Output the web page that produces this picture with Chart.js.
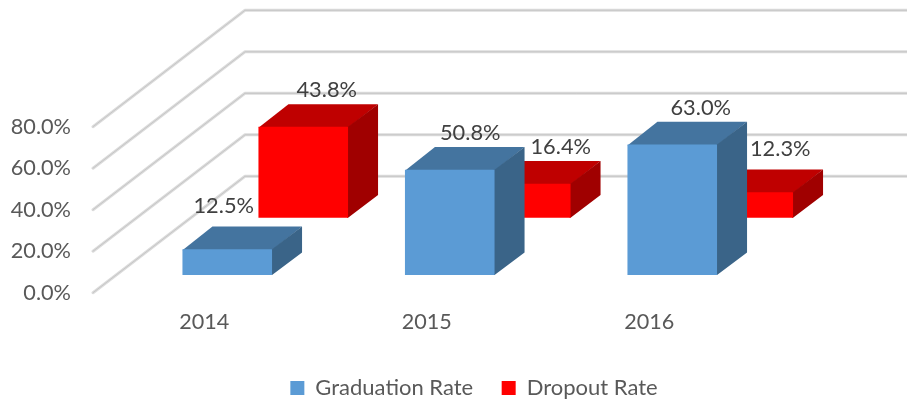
<!DOCTYPE html>
<html>
<head>
<meta charset="utf-8">
<style>html,body{margin:0;padding:0;background:#fff}#wrap{width:907px;height:400px;position:relative}</style>
<script src="https://cdn.jsdelivr.net/npm/chart.js@4"></script>
</head>
<body>
<div id="wrap"><canvas id="c" width="907" height="400"></canvas></div>
<script>
const categories = ['2014', '2015', '2016'];
const graduationRate = [12.5, 50.8, 63.0];
const dropoutRate = [43.8, 16.4, 12.3];
const yTicks = [0, 20, 40, 60, 80];

// Projection styling (oblique 3D look)
const wallDepth = { x: 152, y: -116.4 };
const barDepth = { x: 30, y: -22.6 };
const rows = [
  { dx: 23, dy: -17.6, top: '#44749f', side: '#3a6488' },
  { dx: 99, dy: -75, top: '#bf0000', side: '#a00000' }
];
// Data labels sit by hand in the reference: offset from the bar's front-top centre
const labelNudge = [
  [[-3.5, -43], [20.5, -37], [28.5, -36]],
  [[23.5, -37], [35, -37], [32, -43]]
];

const depthPlugin = {
  id: 'depth',
  beforeDatasetsDraw(chart) {
    const { ctx, scales } = chart;
    const left = scales.x.left;
    ctx.save();
    yTicks.forEach(t => {
      const y = scales.y.getPixelForValue(t);
      const path = () => {
        ctx.beginPath();
        ctx.moveTo(left, y);
        ctx.lineTo(left + wallDepth.x, y + wallDepth.y);
        ctx.lineTo(chart.width, y + wallDepth.y);
      };
      ctx.lineCap = 'round';
      ctx.lineJoin = 'round';
      ctx.strokeStyle = '#dcdcdc';
      ctx.lineWidth = 3;
      path(); ctx.stroke();
      ctx.strokeStyle = '#c6c6c6';
      ctx.lineWidth = 1;
      path(); ctx.stroke();
    });
    ctx.restore();
  },
  beforeDatasetDraw(chart, args) {
    const { ctx } = chart;
    const r = rows[args.index];
    ctx.save();
    ctx.translate(r.dx, r.dy);
    args.meta.data.forEach(el => {
      const x0 = el.x - el.width / 2, x1 = el.x + el.width / 2;
      const dx = barDepth.x, dy = barDepth.y;
      ctx.fillStyle = r.top;
      ctx.beginPath();
      ctx.moveTo(x0, el.y + 1);
      ctx.lineTo(x0 + dx, el.y + dy);
      ctx.lineTo(x1 + dx, el.y + dy);
      ctx.lineTo(x1, el.y + 1);
      ctx.closePath();
      ctx.fill();
      ctx.fillStyle = r.side;
      ctx.beginPath();
      ctx.moveTo(x1 - 1, el.y);
      ctx.lineTo(x1, el.y);
      ctx.lineTo(x1 + dx, el.y + dy);
      ctx.lineTo(x1 + dx, el.base + dy);
      ctx.lineTo(x1, el.base);
      ctx.lineTo(x1 - 1, el.base);
      ctx.closePath();
      ctx.fill();
    });
  },
  afterDatasetDraw(chart) {
    chart.ctx.restore();
  },
  afterDatasetsDraw(chart) {
    const { ctx } = chart;
    ctx.save();
    ctx.font = '21.8px Lato';
    ctx.fillStyle = '#404040';
    ctx.textAlign = 'center';
    ctx.textBaseline = 'middle';
    chart.data.datasets.forEach((ds, i) => {
      const r = rows[i];
      chart.getDatasetMeta(i).data.forEach((el, j) => {
        const n = labelNudge[i][j];
        ctx.fillText(ds.data[j].toFixed(1) + '%', el.x + r.dx + n[0], el.y + r.dy + n[1]);
      });
    });
    ctx.restore();
  }
};

new Chart(document.getElementById('c'), {
  type: 'bar',
  data: {
    labels: categories,
    datasets: [
      { label: 'Graduation Rate', data: graduationRate, backgroundColor: '#5b9bd5', clip: false },
      { label: 'Dropout Rate', data: dropoutRate, backgroundColor: '#ff0000', clip: false }
    ]
  },
  options: {
    responsive: false,
    animation: false,
    events: [],
    layout: { padding: { left: 0, right: -41, top: 126.7, bottom: -9 } },
    datasets: { bar: { grouped: false, categoryPercentage: 1, barPercentage: 0.4027 } },
    scales: {
      x: {
        grid: { display: false },
        border: { display: false },
        ticks: { color: '#595959', font: { family: 'Lato', size: 21.6 }, padding: 8, maxRotation: 0 },
        afterFit(s) { s.height = 55.8; }
      },
      y: {
        min: 0,
        max: 80,
        afterBuildTicks(s) { s.ticks = yTicks.map(v => ({ value: v })); },
        grid: { display: false, drawTicks: false },
        border: { display: false },
        ticks: {
          color: '#595959',
          font: { family: 'Lato', size: 21.7 },
          padding: 22,
          callback: v => v.toFixed(1) + '%'
        },
        afterFit(s) { s.width = 93; }
      },
      spare: {
        position: 'right',
        display: true,
        grid: { display: false },
        border: { display: false },
        ticks: { display: false },
        afterFit(s) { s.width = 187.5; }
      }
    },
    plugins: {
      tooltip: { enabled: false },
      legend: {
        position: 'bottom',
        labels: {
          color: '#595959',
          font: { family: 'Lato', size: 22 },
          boxWidth: 14,
          boxHeight: 14,
          padding: 28.5
        }
      }
    }
  },
  plugins: [depthPlugin]
});
</script>
</body>
</html>
